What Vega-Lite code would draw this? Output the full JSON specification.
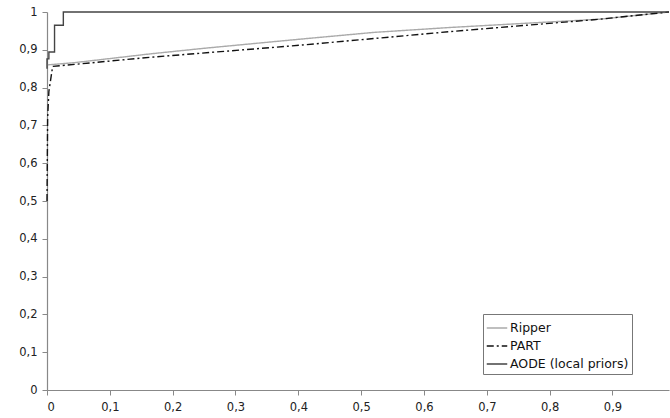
{
  "$schema": "https://vega.github.io/schema/vega-lite/v6.json",
  "width": 622,
  "height": 378,
  "autosize": {"type": "none"},
  "padding": {"left": 47, "top": 12, "right": 1, "bottom": 28},
  "background": "white",
  "config": {
    "view": {"stroke": null},
    "font": "DejaVu Sans",
    "axis": {"grid": false, "domainColor": "#888", "tickColor": "#888", "labelColor": "#222", "labelFontSize": 11.5, "labelFont": "DejaVu Sans", "tickSize": 5, "domainWidth": 1.2, "title": null}
  },
  "data": {
    "values": [
      {"model": "Ripper", "i": 0, "fpr": 0, "tpr": 0.86},
      {"model": "Ripper", "i": 1, "fpr": 0.044, "tpr": 0.866},
      {"model": "Ripper", "i": 2, "fpr": 0.163, "tpr": 0.889},
      {"model": "Ripper", "i": 3, "fpr": 0.25, "tpr": 0.904},
      {"model": "Ripper", "i": 4, "fpr": 0.402, "tpr": 0.928},
      {"model": "Ripper", "i": 5, "fpr": 0.52, "tpr": 0.946},
      {"model": "Ripper", "i": 6, "fpr": 0.641, "tpr": 0.959},
      {"model": "Ripper", "i": 7, "fpr": 0.76, "tpr": 0.97},
      {"model": "Ripper", "i": 8, "fpr": 0.88, "tpr": 0.981},
      {"model": "Ripper", "i": 9, "fpr": 0.99, "tpr": 1.0},
      {"model": "PART", "i": 0, "fpr": 0, "tpr": 0.5},
      {"model": "PART", "i": 1, "fpr": 0.001, "tpr": 0.72},
      {"model": "PART", "i": 2, "fpr": 0.003, "tpr": 0.79},
      {"model": "PART", "i": 3, "fpr": 0.009, "tpr": 0.856},
      {"model": "PART", "i": 4, "fpr": 0.163, "tpr": 0.88},
      {"model": "PART", "i": 5, "fpr": 0.402, "tpr": 0.912},
      {"model": "PART", "i": 6, "fpr": 0.641, "tpr": 0.948},
      {"model": "PART", "i": 7, "fpr": 0.88, "tpr": 0.981},
      {"model": "PART", "i": 8, "fpr": 0.99, "tpr": 1.0},
      {"model": "AODE (local priors)", "i": 0, "fpr": 0, "tpr": 0.85},
      {"model": "AODE (local priors)", "i": 1, "fpr": 0, "tpr": 0.876},
      {"model": "AODE (local priors)", "i": 2, "fpr": 0.003, "tpr": 0.876},
      {"model": "AODE (local priors)", "i": 3, "fpr": 0.003, "tpr": 0.894},
      {"model": "AODE (local priors)", "i": 4, "fpr": 0.012, "tpr": 0.894},
      {"model": "AODE (local priors)", "i": 5, "fpr": 0.012, "tpr": 0.965},
      {"model": "AODE (local priors)", "i": 6, "fpr": 0.026, "tpr": 0.965},
      {"model": "AODE (local priors)", "i": 7, "fpr": 0.026, "tpr": 1.0},
      {"model": "AODE (local priors)", "i": 8, "fpr": 0.99, "tpr": 1.0}
    ]
  },
  "mark": {"type": "line", "strokeWidth": 1.4, "clip": false},
  "encoding": {
    "x": {
      "field": "fpr", "type": "quantitative",
      "scale": {"domain": [0, 0.99], "nice": false, "zero": true},
      "axis": {"values": [0, 0.1, 0.2, 0.3, 0.4, 0.5, 0.6, 0.7, 0.8, 0.9], "labelExpr": "replace(toString(datum.value), '.', ',')", "labelPadding": 6}
    },
    "y": {
      "field": "tpr", "type": "quantitative",
      "scale": {"domain": [0, 1], "nice": false},
      "axis": {"values": [0, 0.1, 0.2, 0.3, 0.4, 0.5, 0.6, 0.7, 0.8, 0.9, 1], "labelExpr": "replace(toString(datum.value), '.', ',')", "labelPadding": 5}
    },
    "order": {"field": "i"},
    "color": {
      "field": "model", "type": "nominal",
      "scale": {"domain": ["Ripper", "PART", "AODE (local priors)"], "range": ["#aaaaaa", "#111111", "#444444"]},
      "legend": {
        "title": null, "orient": "none", "legendX": 436, "legendY": 302,
        "symbolType": "stroke", "symbolSize": 420, "symbolStrokeWidth": 1.4,
        "labelFontSize": 12.5, "labelFont": "DejaVu Sans", "labelColor": "#111", "labelOffset": 2,
        "rowPadding": -1, "padding": 3, "strokeColor": "#777", "fillColor": "white"
      }
    },
    "strokeDash": {
      "field": "model", "type": "nominal",
      "scale": {"domain": ["Ripper", "PART", "AODE (local priors)"], "range": [[1, 0], [7, 3, 2, 3], [1, 0]]},
      "legend": null
    }
  }
}
